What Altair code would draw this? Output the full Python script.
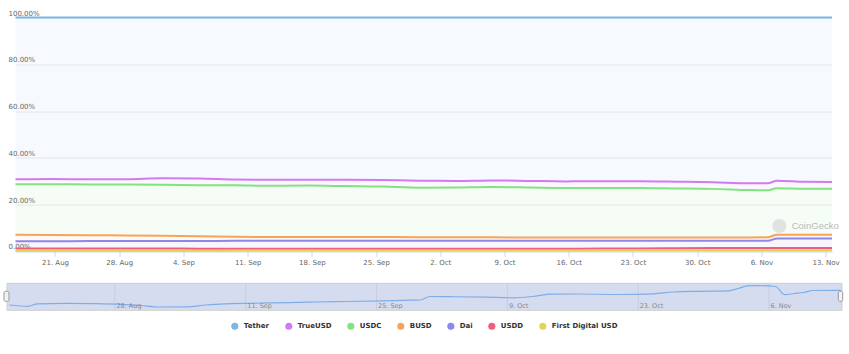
import altair as alt
import pandas as pd

# ---------------- data ----------------
series_names = ["Tether", "TrueUSD", "USDC", "BUSD", "Dai", "USDD", "First Digital USD"]
series_colors = ["#7cb5ec", "#d27af0", "#7fe57f", "#f7a35c", "#8f86ea", "#f15c80", "#e4d354"]

dates = [
    "2023-08-16", "2023-08-20", "2023-08-24", "2023-08-28", "2023-09-01", "2023-09-05",
    "2023-09-09", "2023-09-13", "2023-09-17", "2023-09-21", "2023-09-25", "2023-09-29",
    "2023-10-03", "2023-10-07", "2023-10-11", "2023-10-15", "2023-10-19", "2023-10-23",
    "2023-10-27", "2023-10-31", "2023-11-04", "2023-11-06", "2023-11-07", "2023-11-10",
    "2023-11-13",
]
# market share (%) per coin
tether = [69.2, 69.1, 69.2, 69.2, 68.8, 68.9, 69.3, 69.4, 69.4, 69.4, 69.5, 69.8, 69.9,
          69.7, 69.9, 70.1, 70.0, 70.0, 70.2, 70.5, 70.9, 70.9, 69.8, 70.3, 70.4]
trueusd = [2.1, 2.2, 2.2, 2.2, 2.7, 2.8, 2.5, 2.6, 2.5, 2.7, 2.8, 3.0, 2.8,
           2.8, 2.8, 2.8, 2.9, 2.9, 2.9, 2.8, 2.9, 3.0, 3.2, 2.9, 2.8]
usdc = [21.6, 21.7, 21.7, 21.8, 21.9, 21.9, 22.0, 21.9, 22.0, 21.8, 21.6, 21.2, 21.3,
        21.5, 21.4, 21.2, 21.2, 21.2, 21.0, 20.8, 20.3, 20.1, 19.9, 19.7, 19.7]
busd = [2.8, 2.7, 2.5, 2.4, 2.2, 2.0, 1.7, 1.6, 1.6, 1.6, 1.6, 1.5, 1.5,
        1.5, 1.4, 1.4, 1.4, 1.4, 1.4, 1.4, 1.4, 1.5, 1.6, 1.6, 1.6]
dai = [3.1, 3.1, 3.2, 3.2, 3.2, 3.3, 3.4, 3.4, 3.4, 3.4, 3.4, 3.4, 3.4,
       3.4, 3.4, 3.4, 3.3, 3.3, 3.2, 3.1, 3.1, 3.1, 4.1, 4.1, 4.1]
usdd = [1.0, 1.0, 1.0, 1.0, 1.0, 0.9, 0.8, 0.8, 0.8, 0.8, 0.8, 0.8, 0.8,
        0.8, 0.8, 0.8, 0.8, 0.8, 0.9, 1.0, 1.0, 1.0, 0.9, 0.9, 0.9]
fdusd = [0.2, 0.2, 0.2, 0.2, 0.2, 0.2, 0.3, 0.3, 0.3, 0.3, 0.3, 0.3, 0.3,
         0.3, 0.3, 0.3, 0.4, 0.4, 0.4, 0.4, 0.4, 0.4, 0.5, 0.5, 0.5]

# navigator series (Tether, arbitrary units read from the navigator strip)
nav_dates = [
    "2023-08-16", "2023-08-18", "2023-08-19", "2023-08-22", "2023-08-25", "2023-08-28",
    "2023-08-30", "2023-09-01", "2023-09-04", "2023-09-06", "2023-09-08", "2023-09-11",
    "2023-09-15", "2023-09-18", "2023-09-21", "2023-09-25", "2023-09-28", "2023-09-29",
    "2023-09-30", "2023-10-02", "2023-10-06", "2023-10-09", "2023-10-11", "2023-10-13",
    "2023-10-16", "2023-10-20", "2023-10-24", "2023-10-26", "2023-10-29", "2023-11-01",
    "2023-11-02", "2023-11-03", "2023-11-04", "2023-11-06", "2023-11-07", "2023-11-08",
    "2023-11-09", "2023-11-10", "2023-11-13",
]
nav_values = [82.98, 82.74, 83.20, 83.28, 83.24, 83.11, 82.89, 82.61, 82.65, 82.98, 83.20,
              83.30, 83.43, 83.54, 83.63, 83.76, 83.87, 83.91, 84.56, 84.52, 84.43, 84.31,
              84.56, 84.98, 85.02, 84.93, 85.06, 85.39, 85.52, 85.61, 86.04, 86.54, 86.57,
              86.41, 84.89, 85.11, 85.30, 85.67, 85.70]

nav_tick_dates = ["2023-08-28", "2023-09-11", "2023-09-25", "2023-10-09", "2023-10-23", "2023-11-06"]
nav_tick_labels = ["28. Aug", "11. Sep", "25. Sep", "9. Oct", "23. Oct", "6. Nov"]

axis_tick_days = [(8, 21), (8, 28), (9, 4), (9, 11), (9, 18), (9, 25), (10, 2), (10, 9),
                  (10, 16), (10, 23), (10, 30), (11, 6), (11, 13)]

# ---------------- tables ----------------
all_series = [tether, trueusd, usdc, busd, dai, usdd, fdusd]
rows = []
for i, (name, vals) in enumerate(zip(series_names, all_series)):
    for d, v in zip(dates, vals):
        rows.append({"date": d + "T16:40:00Z", "series": name, "share": v,
                     "rank": len(series_names) - 1 - i})
df = pd.DataFrame(rows)

nav_df = pd.DataFrame({"date": [d + "T16:40:00Z" for d in nav_dates], "value": nav_values})
nav_ticks = pd.DataFrame({"date": [d + "T00:00:00Z" for d in nav_tick_dates], "label": nav_tick_labels})
one = pd.DataFrame({"a": [0]})

FONT = "DejaVu Sans"

t0 = alt.DateTime(year=2023, month=8, date=16, hours=16, minutes=40, utc=True)
t1 = alt.DateTime(year=2023, month=11, date=13, hours=16, minutes=40, utc=True)

x_main_scale = alt.Scale(type="utc", domain=[t0, t1], nice=False)
x_nav_scale = alt.Scale(type="utc", domain=[t0, t1], nice=False, range=[-6.2, 825.4])
y_nav_scale = alt.Scale(domain=[82, 87], range=[292.8, 265.8], zero=False, nice=False)

color_scale = alt.Scale(domain=series_names, range=series_colors)

x_axis = alt.Axis(
    values=[alt.DateTime(year=2023, month=m, date=d, utc=True) for m, d in axis_tick_days],
    format="%-d. %b", labelFont=FONT, labelFontSize=7, labelColor="#666666",
    domainColor="#ccd6eb", tickColor="#ccd6eb", tickSize=5, labelPadding=2,
    grid=False, title=None, labelFlush=False, labelOverlap=False,
)
y_axis = alt.Axis(
    values=[0, 20, 40, 60, 80, 100], labelExpr="format(datum.value, '.2f') + '%'",
    labelAlign="left", labelBaseline="alphabetic", labelPadding=7.5, labelOffset=-2.5,
    ticks=False, tickSize=0, domain=False, grid=True, gridColor="#ececec",
    labelFont=FONT, labelFontSize=7, labelColor="#666666", title=None, labelOverlap=False,
)

base = alt.Chart(df).transform_stack(
    stack="share", groupby=["date"], as_=["y0", "y1"], offset="zero",
    sort=[alt.SortField("rank", order="ascending")],
)

area = base.mark_area(interpolate="monotone").encode(
    x=alt.X("date:T", scale=x_main_scale, axis=x_axis),
    y=alt.Y("y1:Q", scale=alt.Scale(domain=[0, 100], nice=False), axis=y_axis),
    y2="y0:Q",
    color=alt.Color(
        "series:N", scale=color_scale,
        legend=alt.Legend(
            orient="none", legendX=215.3, legendY=304.5, direction="horizontal", title=None,
            symbolType="circle", symbolSize=50, symbolStrokeWidth=0, symbolOpacity=1,
            labelFont=FONT, labelFontSize=7, labelFontWeight="bold", labelColor="#333333",
            columnPadding=15, labelOffset=5, padding=0,
        ),
    ),
    fillOpacity=alt.value(0.07),
)

lines = base.mark_line(interpolate="monotone", strokeWidth=2).encode(
    x=alt.X("date:T", scale=x_main_scale, axis=x_axis),
    y=alt.Y("y1:Q", scale=alt.Scale(domain=[0, 100], nice=False), axis=y_axis),
    color=alt.Color("series:N", scale=color_scale, legend=None),
)

wm_circle = alt.Chart(one).mark_point(filled=True, color="#e2e2e2", opacity=1, size=200).encode(
    x=alt.value(763.8), y=alt.value(208.5)
)
wm_text = alt.Chart(one).mark_text(
    text="CoinGecko", align="left", baseline="middle", font="Liberation Sans",
    fontSize=9.5, color="#b9b9b9"
).encode(x=alt.value(776.2), y=alt.value(208.5))

main = alt.layer(area, lines, wm_circle, wm_text)

nav_bg = alt.Chart(one).mark_rect(fill="#d6dcef", stroke="#cfcfcf", strokeWidth=1).encode(
    x=alt.value(-8.5), x2=alt.value(826.5), y=alt.value(265.8), y2=alt.value(292.8)
)
nav_grid = alt.Chart(nav_ticks).mark_rule(color="#c6cde0", strokeWidth=1).encode(
    x=alt.X("date:T", scale=x_nav_scale, axis=None),
    y=alt.value(265.8), y2=alt.value(292.8),
)
nav_text = alt.Chart(nav_ticks).mark_text(
    align="left", baseline="alphabetic", dx=1.5, font=FONT, fontSize=6.5, color="#888888"
).encode(
    x=alt.X("date:T", scale=x_nav_scale, axis=None),
    y=alt.value(290.5),
    text="label:N",
)
nav_line = alt.Chart(nav_df).mark_line(interpolate="monotone", color="#7eaee8", strokeWidth=1.2).encode(
    x=alt.X("date:T", scale=x_nav_scale, axis=None),
    y=alt.Y("value:Q", scale=y_nav_scale, axis=None),
)
handle_l = alt.Chart(one).mark_rect(fill="#f2f2f2", stroke="#999999", strokeWidth=1, cornerRadius=1.5).encode(
    x=alt.value(-11.5), x2=alt.value(-6.5), y=alt.value(273.8), y2=alt.value(283.8)
)
handle_r = alt.Chart(one).mark_rect(fill="#f2f2f2", stroke="#999999", strokeWidth=1, cornerRadius=1.5).encode(
    x=alt.value(822.8), x2=alt.value(827.2), y=alt.value(273.8), y2=alt.value(283.8)
)

nav = alt.layer(nav_bg, nav_grid, nav_line, nav_text, handle_l, handle_r)

chart = alt.layer(main, nav).resolve_scale(x="independent", y="independent").properties(
    width=816.5, height=233.8,
    autosize=alt.AutoSizeParams(type="none"),
    padding={"left": 15.5, "top": 17.5, "right": 17, "bottom": 102.7},
    background="white",
).configure_view(strokeWidth=0)

chart.save("out.html", embed_options={"renderer": "svg", "actions": False})
